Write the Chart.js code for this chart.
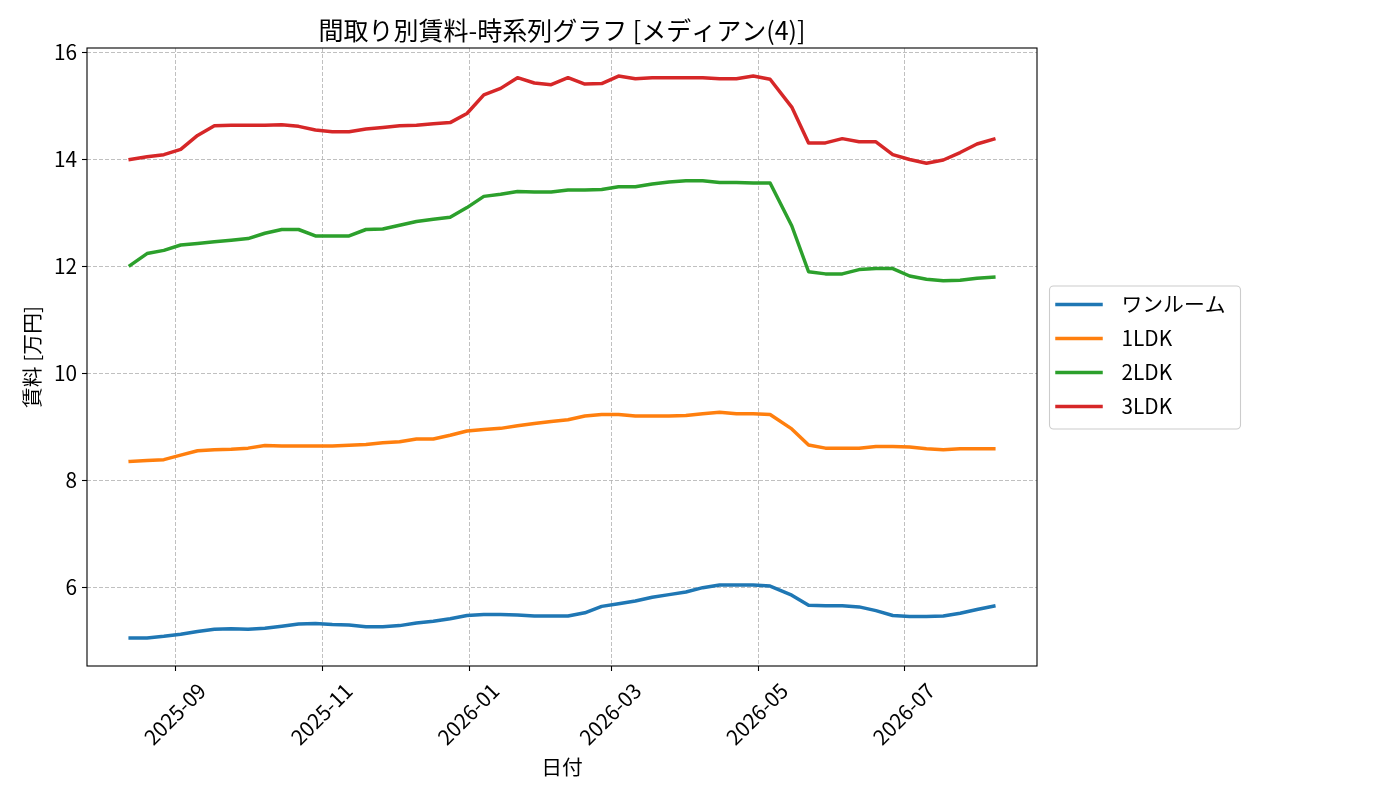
<!DOCTYPE html>
<html lang="ja">
<head>
<meta charset="utf-8">
<title>間取り別賃料-時系列グラフ</title>
<script src="https://cdn.jsdelivr.net/npm/chart.js@4.4.1/dist/chart.umd.min.js"></script>
<style>
  html, body { margin: 0; padding: 0; background: #fff; }
  #wrap { width: 1400px; height: 800px; }
</style>
</head>
<body>
<div id="wrap"><canvas id="myChart" width="1400" height="800"></canvas></div>
<script>
'use strict';

//// Data
const dates = [
    '2025-08-13', '2025-08-20', '2025-08-27', '2025-09-03', '2025-09-10', '2025-09-17', '2025-09-24',
    '2025-10-01', '2025-10-08', '2025-10-15', '2025-10-22', '2025-10-29', '2025-11-05', '2025-11-12',
    '2025-11-19', '2025-11-26', '2025-12-03', '2025-12-10', '2025-12-17', '2025-12-24', '2025-12-31',
    '2026-01-07', '2026-01-14', '2026-01-21', '2026-01-28', '2026-02-04', '2026-02-11', '2026-02-18',
    '2026-02-25', '2026-03-04', '2026-03-11', '2026-03-18', '2026-03-25', '2026-04-01', '2026-04-08',
    '2026-04-15', '2026-04-22', '2026-04-29', '2026-05-06', '2026-05-15', '2026-05-22', '2026-05-29',
    '2026-06-05', '2026-06-12', '2026-06-19', '2026-06-26', '2026-07-03', '2026-07-10', '2026-07-17',
    '2026-07-24', '2026-07-31', '2026-08-07'
];

const oneRoom = [
    5.05, 5.05, 5.08, 5.12, 5.17, 5.21, 5.22, 5.21, 5.23, 5.27, 5.31, 5.32, 5.30,
    5.29, 5.26, 5.26, 5.28, 5.33, 5.36, 5.41, 5.47, 5.49, 5.49, 5.48, 5.46, 5.46, 5.46,
    5.52, 5.64, 5.69, 5.74, 5.81, 5.86, 5.91, 5.99, 6.04, 6.04, 6.04, 6.02,
    5.85, 5.66, 5.65, 5.65, 5.63, 5.56, 5.47, 5.45, 5.45, 5.46, 5.51, 5.58, 5.645
];

const ldk1 = [
    8.35, 8.37, 8.385, 8.47, 8.55, 8.57, 8.58, 8.60, 8.65, 8.64, 8.64, 8.64, 8.64,
    8.655, 8.67, 8.70, 8.72, 8.77, 8.77, 8.84, 8.92, 8.95, 8.97, 9.02, 9.06, 9.10, 9.13,
    9.20, 9.23, 9.23, 9.20, 9.20, 9.20, 9.21, 9.245, 9.27, 9.245, 9.245, 9.23,
    8.96, 8.66, 8.60, 8.60, 8.60, 8.63, 8.63, 8.62, 8.59, 8.57, 8.59, 8.59, 8.59
];

const ldk2 = [
    12.02, 12.24, 12.30, 12.40, 12.43, 12.46, 12.49, 12.52, 12.62, 12.69, 12.69, 12.57, 12.57,
    12.57, 12.69, 12.70, 12.77, 12.84, 12.88, 12.92, 13.10, 13.31, 13.35, 13.40, 13.39, 13.39, 13.43,
    13.43, 13.44, 13.49, 13.49, 13.54, 13.58, 13.60, 13.60, 13.57, 13.57, 13.56, 13.56,
    12.76, 11.90, 11.86, 11.86, 11.94, 11.96, 11.96, 11.82, 11.76, 11.73, 11.74, 11.78, 11.80
];

const ldk3 = [
    14.00, 14.05, 14.09, 14.19, 14.45, 14.63, 14.64, 14.64, 14.64, 14.65, 14.62, 14.55, 14.52,
    14.52, 14.57, 14.60, 14.63, 14.64, 14.67, 14.69, 14.86, 15.21, 15.33, 15.53, 15.43, 15.40, 15.53,
    15.41, 15.42, 15.56, 15.51, 15.53, 15.53, 15.53, 15.53, 15.51, 15.51, 15.56, 15.50,
    14.98, 14.31, 14.31, 14.39, 14.33, 14.33, 14.09, 14.00, 13.93, 13.99, 14.13, 14.29, 14.38
];

const seriesNames = ['ワンルーム', '1LDK', '2LDK', '3LDK'];
const seriesValues = [oneRoom, ldk1, ldk2, ldk3];
const seriesColors = ['#1f77b4', '#ff7f0e', '#2ca02c', '#d62728'];

const xTickLabels = ['2025-09', '2025-11', '2026-01', '2026-03', '2026-05', '2026-07'];
const yTickValues = [6, 8, 10, 12, 14, 16];

const titleText = '間取り別賃料-時系列グラフ [メディアン(4)]';
const xTitle = '日付';
const yTitle = '賃料 [万円]';

const FONT = '"Noto Sans CJK JP", "Noto Sans", sans-serif';
const DAY = 86400000;

// 'YYYY-MM-DD' or 'YYYY-MM' -> days since epoch
function toDay(s) {
    const p = s.split('-').map(Number);
    return Date.UTC(p[0], p[1] - 1, p[2] || 1) / DAY;
}

//// Axis limits with matplotlib style 5% margins
const xs = dates.map(toDay);
const xMin = Math.min(...xs), xMax = Math.max(...xs);
const xPad = (xMax - xMin) * 0.05;
const allY = [].concat(...seriesValues);
const yMin = Math.min(...allY), yMax = Math.max(...allY);
const yPad = (yMax - yMin) * 0.05;

//// Title, axis labels, rotated date ticks, frame and legend
const decorations = {
    id: 'decorations',
    afterDraw(chart) {
        const { ctx, chartArea: a, scales } = chart;
        ctx.save();

        // frame
        ctx.strokeStyle = '#000';
        ctx.lineWidth = 1.1;
        ctx.strokeRect(a.left, a.top, a.right - a.left, a.bottom - a.top);

        // x tick labels, rotated 45deg, centred under the tick
        ctx.fillStyle = '#000';
        ctx.font = '20.8px ' + FONT;
        ctx.textAlign = 'center';
        ctx.textBaseline = 'middle';
        xTickLabels.forEach(t => {
            const x = scales.x.getPixelForValue(toDay(t));
            ctx.save();
            ctx.translate(x - 1, a.bottom + 48);
            ctx.rotate(-Math.PI / 4);
            ctx.fillText(t, 0, 0);
            ctx.restore();
        });

        // title
        ctx.font = '25px ' + FONT;
        ctx.textBaseline = 'alphabetic';
        ctx.fillText(titleText, (a.left + a.right) / 2, a.top - 8.3);

        // axis titles
        ctx.font = '20.8px ' + FONT;
        ctx.textBaseline = 'middle';
        ctx.fillText(xTitle, (a.left + a.right) / 2, 767);
        ctx.save();
        ctx.translate(32, (a.top + a.bottom) / 2);
        ctx.rotate(-Math.PI / 2);
        ctx.fillText(yTitle, 0, 0);
        ctx.restore();

        // legend
        const lx = 1049.5, ly = 286, lw = 191, lh = 143;
        ctx.beginPath();
        ctx.roundRect(lx, ly, lw, lh, 4);
        ctx.fillStyle = 'rgba(255,255,255,0.8)';
        ctx.fill();
        ctx.strokeStyle = '#cccccc';
        ctx.lineWidth = 1.1;
        ctx.stroke();

        ctx.textAlign = 'left';
        chart.data.datasets.forEach((ds, i) => {
            const y = 304.5 + i * 34;
            ctx.beginPath();
            ctx.moveTo(1057, y);
            ctx.lineTo(1101, y);
            ctx.strokeStyle = ds.borderColor;
            ctx.lineWidth = 3.5;
            ctx.lineCap = 'square';
            ctx.stroke();
            ctx.fillStyle = '#000';
            ctx.fillText(ds.label, 1121.5, y);
        });

        ctx.restore();
    }
};

//---> CHART <----///
const ctx = document.getElementById('myChart').getContext('2d');

const chart = new Chart(ctx, {
    type: 'line',
    data: {
        datasets: seriesNames.map((name, i) => ({
            label: name,
            data: dates.map((d, j) => ({ x: toDay(d), y: seriesValues[i][j] })),
            borderColor: seriesColors[i],
            backgroundColor: seriesColors[i],
            fill: false
        }))
    },
    options: {
        responsive: false,
        animation: false,
        layout: { padding: { left: 0, top: 48, right: 363, bottom: 0 } },
        plugins: {
            legend: { display: false },
            title: { display: false },
            tooltip: { enabled: false }
        },
        elements: {
            point: { radius: 0, hoverRadius: 0 },
            line: { borderWidth: 3.5, tension: 0, borderJoinStyle: 'round', borderCapStyle: 'square' }
        },
        scales: {
            x: {
                type: 'linear',
                min: xMin - xPad,
                max: xMax + xPad,
                afterBuildTicks: scale => {
                    scale.ticks = xTickLabels.map(t => ({ value: toDay(t) }));
                },
                afterFit: scale => { scale.height = 134; },
                ticks: { display: false, autoSkip: false },
                grid: { color: '#b0b0b0', lineWidth: 0.8, tickLength: 5, tickColor: '#000', tickWidth: 1.1 },
                border: { display: false, dash: [4, 2] }
            },
            y: {
                type: 'linear',
                min: yMin - yPad,
                max: yMax + yPad,
                afterBuildTicks: scale => {
                    scale.ticks = yTickValues.map(v => ({ value: v }));
                },
                afterFit: scale => { scale.width = 87; },
                ticks: {
                    autoSkip: false,
                    padding: 5,
                    color: '#000',
                    font: { family: FONT, size: 20.8 },
                    callback: v => String(v)
                },
                grid: { color: '#b0b0b0', lineWidth: 0.8, tickLength: 5, tickColor: '#000', tickWidth: 1.1 },
                border: { display: false, dash: [4, 2] }
            }
        }
    },
    plugins: [decorations]
});
</script>
</body>
</html>
